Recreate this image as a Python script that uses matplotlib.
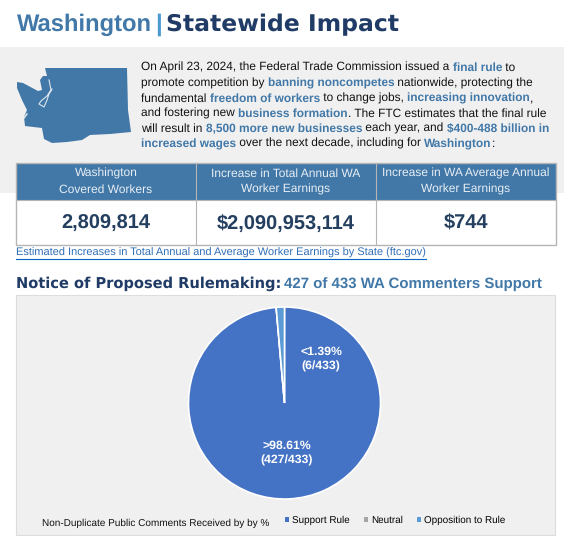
import matplotlib
matplotlib.use("Agg")
import matplotlib.pyplot as plt
from matplotlib.patches import Rectangle, Polygon

plt.rcParams["text.hinting"] = "no_hinting"

# ---- data ----
slice_labels = ["Support Rule", "Neutral", "Opposition to Rule"]
slice_counts = [427, 0, 6]
slice_colors = ["#4472C4", "#A5A5A5", "#5B9BD5"]
headers = ["Washington\nCovered Workers", "Increase in Total Annual WA\nWorker Earnings",
           "Increase in WA Average Annual\nWorker Earnings"]
values = ["2,809,814", "$2,090,953,114", "$744"]

BLUE = "#4178A8"
NAVY = "#1F3B66"
GREY = "#F0F0F0"
SANS = "Liberation Sans"

W, H = 564, 544
fig = plt.figure(figsize=(W / 100, H / 100), dpi=100)
bg = fig.add_axes([0, 0, 1, 1])
bg.set_xlim(0, W)
bg.set_ylim(H, 0)
bg.axis("off")
px = 0.72  # points per pixel


def runs(x, y, parts, size, family=SANS):
    """Draw consecutive coloured text runs starting at pixel x."""
    r = fig.canvas.get_renderer()
    for s, color, weight in parts:
        t = bg.text(x, y, s, color=color, fontweight=weight, fontsize=size * px,
                    family=family, va="baseline", ha="left")
        x += t.get_window_extent(r).width
    return x


# ---- title ----
runs(17, 31, [("Washington", BLUE, "bold")], 23.8)
bg.text(158.5, 31, "|", color="#4A9AD0", fontsize=24 * px, family=SANS, fontweight="bold",
        ha="center", va="baseline")
runs(166, 31, [("Statewide Impact", NAVY, "bold")], 23.5, family="DejaVu Sans")

# ---- grey band ----
bg.add_patch(Rectangle((0, 47), W, 146, fc=GREY, ec="none", zorder=0))

# ---- state silhouette ----
outline = [(45, 68), (127, 68), (128, 110), (131, 132), (110, 134), (90, 135), (82, 140), (67, 142),
           (52, 143), (44, 139), (42, 128), (25, 126), (24, 117), (27, 110), (22, 100), (17, 88),
           (17, 82), (23, 83), (38, 91), (42, 90), (40, 80), (43, 76), (47, 76)]
bg.add_patch(Polygon(outline, closed=True, fc=BLUE, ec="none", zorder=1))
bg.plot([49, 51, 47, 41, 39, 44, 47, 49, 52], [80, 90, 96, 101, 104, 107, 100, 94, 89],
        color="#DCE6EF", lw=0.8, zorder=2)
bg.plot([24, 27], [118, 114], color=GREY, lw=1, zorder=2)

# ---- intro paragraph ----
B = "bold"
N = "normal"
K = "#111111"
lines = [
    [("On April 23, 2024, the Federal Trade Commission issued a ", K, N), ("final rule", BLUE, B), (" to", K, N)],
    [("promote competition by ", K, N), ("banning noncompetes", BLUE, B), (" nationwide, protecting the", K, N)],
    [("fundamental ", K, N), ("freedom of workers", BLUE, B), (" to change jobs, ", K, N),
     ("increasing innovation", BLUE, B), (",", K, N)],
    [("and fostering new ", K, N), ("business formation", BLUE, B), (". The FTC estimates that the final rule", K, N)],
    [("will result in ", K, N), ("8,500 more new businesses", BLUE, B), (" each year, and ", K, N),
     ("$400-488 billion in", BLUE, B)],
    [("increased wages", BLUE, B), (" over the next decade, including for ", K, N), ("Washington", BLUE, B), (":", K, N)],
]
for i, parts in enumerate(lines):
    runs(141, 71 + i * 15.2, parts, 11.9)

# ---- table ----
edges = [16, 196, 375.5, 556]
bg.add_patch(Rectangle((16, 163), 540, 37, fc=BLUE, ec="none", zorder=2))
bg.add_patch(Rectangle((16, 200), 540, 45, fc="white", ec="none", zorder=2))
bg.add_patch(Rectangle((16, 163), 540, 82, fc="none", ec="#B5B5B5", lw=1, zorder=4))
bg.plot([16, 556], [200, 200], color="#B5B5B5", lw=0.8, zorder=4)
for x in edges[1:-1]:
    bg.plot([x, x], [163, 245], color="#B5B5B5", lw=0.8, zorder=4)
for i in range(3):
    cx = (edges[i] + edges[i + 1]) / 2
    top, bottom = headers[i].split("\n")
    bg.text(cx, 177, top, color="#E8EEF4", fontsize=12 * px, family=SANS, ha="center",
            va="baseline", zorder=5)
    bg.text(cx, 193, bottom, color="#E8EEF4", fontsize=12 * px, family=SANS, ha="center",
            va="baseline", zorder=5)
    bg.text(cx, 229, values[i], color="#243F5F", fontsize=20 * px, family=SANS, fontweight="bold",
            ha="center", va="baseline", zorder=5)

# ---- link ----
bg.text(16, 256, "Estimated Increases in Total Annual and Average Worker Earnings by State (ftc.gov)",
        color="#2F6DB5", fontsize=11.05 * px, family=SANS, va="baseline")
bg.plot([16, 426], [258.5, 258.5], color="#0563C1", lw=0.8)

# ---- section heading ----
runs(16, 288, [("Notice of Proposed Rulemaking:", NAVY, B)], 14.6, family="DejaVu Sans")
runs(284, 288, [("427 of 433 WA Commenters Support", BLUE, B)], 15)

# ---- pie panel ----
bg.add_patch(Rectangle((16, 295), 539, 240, fc=GREY, ec="#DDDDDD", lw=0.8, zorder=0))
r, cx, cy = 96, 284.5, 403
pie_ax = fig.add_axes([(cx - r) / W, 1 - (cy + r) / H, 2 * r / W, 2 * r / H])
wedges, _ = pie_ax.pie(slice_counts, colors=slice_colors, startangle=90, counterclock=False,
                       radius=1.0, wedgeprops=dict(edgecolor="white", linewidth=1.2))
pie_ax.set_xlim(-1, 1)
pie_ax.set_ylim(-1, 1)
total = sum(slice_counts)
pie_ax.text(0.38, 0.46, f"<{100 * slice_counts[2] / total:.2f}%\n({slice_counts[2]}/{total})",
            color="white", fontsize=12.2 * px, family=SANS, fontweight="bold", ha="center", va="center",
            linespacing=1.45)
pie_ax.text(0.02, -0.52, f">{100 * slice_counts[0] / total:.2f}%\n({slice_counts[0]}/{total})",
            color="white", fontsize=12.2 * px, family=SANS, fontweight="bold", ha="center", va="center",
            linespacing=1.45)

# ---- legend ----
bg.text(42, 525.5, "Non-Duplicate Public Comments Received by by %", color=K, fontsize=9.96 * px,
        family=SANS, va="baseline")
leg = fig.legend(wedges, slice_labels, ncols=3, loc="center left",
                 bbox_to_anchor=(285 / W, 1 - 520.5 / H), frameon=False,
                 prop=dict(family=SANS, size=9.9 * px), handlelength=0.4, handleheight=0.4,
                 handletextpad=0.3, columnspacing=1.45, borderpad=0, borderaxespad=0)
for h in leg.legend_handles:
    h.set_edgecolor("none")

fig.savefig("out.png", dpi=100)
